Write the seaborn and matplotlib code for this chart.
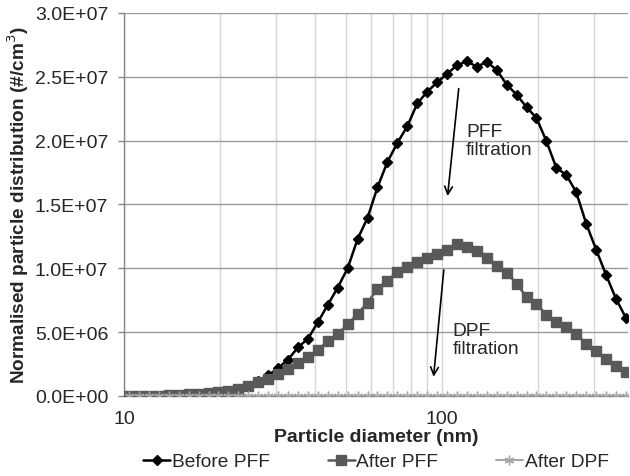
import matplotlib
matplotlib.use("Agg")
import matplotlib.pyplot as plt
import matplotlib.ticker as mticker
import seaborn as sns
import pandas as pd

# Particle diameter (nm), 32 channels per decade
diameter = [10.37, 11.14, 11.97, 12.86, 13.82, 14.86, 15.97, 17.16, 18.44, 19.81,
            21.29, 22.88, 24.59, 26.42, 28.39, 30.51, 32.79, 35.24, 37.87, 40.69,
            43.73, 46.99, 50.50, 54.27, 58.32, 62.67, 67.35, 72.38, 77.78, 83.58,
            89.82, 96.52, 103.73, 111.47, 119.79, 128.73, 138.34, 148.66, 159.76, 171.68,
            184.49, 198.26, 213.05, 228.95, 246.04, 264.40, 284.13, 305.34, 328.13, 352.62,
            378.93]

before_pff = [0.000, 0.000, 0.000, 0.001, 0.004, 0.008, 0.012, 0.016, 0.022, 0.032,
              0.040, 0.055, 0.080, 0.115, 0.160, 0.218, 0.284, 0.380, 0.447, 0.577,
              0.713, 0.848, 1.000, 1.229, 1.394, 1.634, 1.832, 1.981, 2.112, 2.290,
              2.381, 2.456, 2.521, 2.590, 2.620, 2.578, 2.615, 2.553, 2.438, 2.359,
              2.261, 2.176, 1.995, 1.785, 1.731, 1.595, 1.350, 1.146, 0.948, 0.760,
              0.611]
after_pff = [0.000, 0.000, 0.000, 0.001, 0.005, 0.010, 0.013, 0.016, 0.023, 0.034,
             0.039, 0.055, 0.081, 0.110, 0.130, 0.170, 0.208, 0.257, 0.303, 0.358,
             0.428, 0.484, 0.560, 0.642, 0.731, 0.838, 0.903, 0.971, 1.012, 1.052,
             1.077, 1.108, 1.145, 1.192, 1.168, 1.135, 1.082, 1.018, 0.962, 0.880,
             0.773, 0.720, 0.634, 0.577, 0.542, 0.486, 0.407, 0.351, 0.292, 0.235,
             0.183]
after_dpf = [0.000] * 51
scale = 1e7

series_names = ["Before PFF", "After PFF", "After DPF"]
y_ticks = [0, 0.5e7, 1.0e7, 1.5e7, 2.0e7, 2.5e7, 3.0e7]

df = pd.DataFrame({
    "d": diameter * 3,
    "n": [v * scale for v in before_pff + after_pff + after_dpf],
    "series": [s for s in series_names for _ in diameter],
})

sns.set_theme(style="white")
plt.rcParams["font.family"] = ["Liberation Sans", "DejaVu Sans"]

FS = 14

fig = plt.figure(figsize=(6.3, 4.77), dpi=100)
ax = fig.add_axes([0.197, 0.168, 0.8, 0.803])

styles = {
    "Before PFF": dict(color="black", marker="D", markersize=5, lw=1.8, zorder=3),
    "After PFF": dict(color="#595959", marker="s", markersize=7, lw=1.8, zorder=4),
    "After DPF": dict(color="#A6A6A6", marker=(6, 2, 0), markersize=7, lw=1.5, zorder=5),
}
for name in series_names:
    st = styles[name]
    sub = df[df["series"] == name]
    sns.lineplot(data=sub, x="d", y="n", ax=ax, color=st["color"], marker=st["marker"],
                 markersize=st["markersize"], linewidth=st["lw"], zorder=st["zorder"],
                 markeredgecolor=st["color"], markeredgewidth=1.0, label=name)

ax.set_xscale("log")
ax.set_xlim(10, 385)
ax.set_ylim(0, 3.0e7)
ax.set_yticks(y_ticks)
ax.yaxis.set_major_formatter(mticker.FuncFormatter(lambda v, p: f"{v:.1E}"))
ax.xaxis.set_major_locator(mticker.FixedLocator([10, 100]))
ax.xaxis.set_minor_locator(mticker.FixedLocator([20, 30, 40, 50, 60, 70, 80, 90, 200, 300]))
ax.xaxis.set_major_formatter(mticker.FixedFormatter(["10", "100"]))
ax.xaxis.set_minor_formatter(mticker.NullFormatter())

ax.grid(True, axis="y", color="#9a9a9a", lw=1.0)
ax.grid(True, axis="x", which="both", color="#d6d6d6", lw=1.0)
ax.set_axisbelow(True)

for s in ["top", "right"]:
    ax.spines[s].set_visible(False)
for s in ["left", "bottom"]:
    ax.spines[s].set_color("#868686")
    ax.spines[s].set_linewidth(1.0)

ax.tick_params(axis="y", which="both", length=4, color="#868686", width=1,
               labelsize=FS, pad=7.5, left=True)
ax.tick_params(axis="x", which="both", length=0, labelsize=FS, pad=10)

ax.set_xlabel("Particle diameter (nm)", fontsize=14, fontweight="bold", labelpad=1)
ax.set_ylabel("Normalised particle distribution (#/cm$^3$)", fontsize=13.7,
              fontweight="bold", labelpad=3)

# annotations
ax.annotate("", xy=(103.9, 1.543e7), xytext=(113.1, 2.428e7),
            arrowprops=dict(arrowstyle="->", color="black", lw=1.2, mutation_scale=14))
ax.text(119.0, 2.14e7, "PFF\nfiltration", fontsize=13.8, va="top", ha="left",
        linespacing=1.1)
ax.annotate("", xy=(93.9, 0.128e7), xytext=(101.5, 1.008e7),
            arrowprops=dict(arrowstyle="->", color="black", lw=1.2, mutation_scale=14))
ax.text(108.1, 0.577e7, "DPF\nfiltration", fontsize=13.8, va="top", ha="left",
        linespacing=1.1)

leg = ax.legend(loc="center", bbox_to_anchor=(0.5, -0.172), ncol=3, frameon=False,
                fontsize=13.8, handlelength=1.4, handletextpad=0.1, columnspacing=3.0,
                borderaxespad=0, borderpad=0)

fig.savefig("out.png", dpi=100)
